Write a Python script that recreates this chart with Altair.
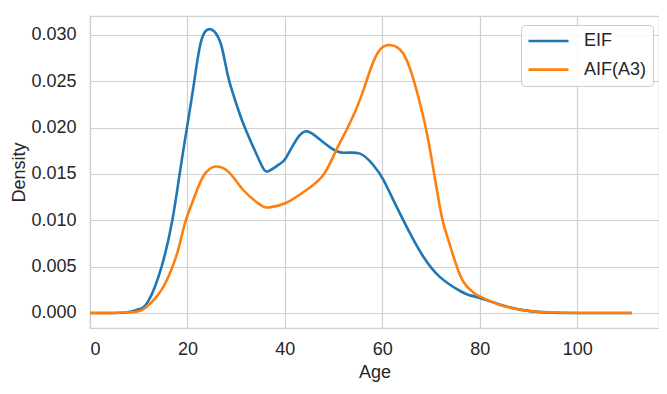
import altair as alt
import pandas as pd

# ---- data ----
eif_age = [0, 5, 8, 10, 12, 14.7, 16.9, 18.4, 19.9, 21.4, 22.9, 24.9, 26.7, 27.7, 28.7, 30.2, 31.8,
           34.9, 36.6, 39.0, 40.3, 42.5, 44.6, 47.0, 49.5, 52.0, 55.4, 58.1, 60.2, 62.9, 65.7, 68.4,
           71.8, 75.9, 78.0, 80.2, 85.5, 90.3, 95.0, 100.0, 111.2]
eif_density = [0, 0.0000, 0.0001, 0.0004, 0.0013, 0.0050, 0.0100, 0.0150, 0.0200, 0.0250, 0.0295,
               0.0306, 0.0293, 0.0271, 0.0248, 0.0223, 0.0200, 0.0163, 0.0153, 0.0161, 0.0168,
               0.0188, 0.0196, 0.0188, 0.0178, 0.0173, 0.0172, 0.0160, 0.0144, 0.0115, 0.0086,
               0.0061, 0.0039, 0.0024, 0.0019, 0.0016, 0.0007, 0.0002, 0.00003, 0, 0]

aif_age = [0, 5, 8, 10.9, 14.3, 16.4, 18.1, 19.5, 21.2, 23.2, 25.8, 28.7, 31.4, 34.9, 36.9, 40.3,
           44.5, 47.9, 50.3, 52.7, 55.4, 57.5, 59.5, 61.9, 64.3, 66.4, 68.4, 69.8, 71.8, 72.9,
           74.6, 76.6, 78.7, 80.0, 84.1, 88.9, 93.0, 100.0, 111.2]
aif_density = [0, 0, 0.0001, 0.0004, 0.0022, 0.0043, 0.0068, 0.0097, 0.0122, 0.0147, 0.0158,
               0.0151, 0.0133, 0.0117, 0.0114, 0.0119, 0.0133, 0.0149, 0.0173, 0.0198, 0.0230,
               0.0262, 0.0284, 0.0289, 0.0280, 0.0252, 0.0212, 0.0176, 0.0115, 0.0090,
               0.0061, 0.0034, 0.0022, 0.0018, 0.0009, 0.0003, 0.0001, 0, 0]

series_names = ["EIF", "AIF(A3)"]
series_colors = ["#1f77b4", "#ff7f0e"]
x_ticks = [0, 20, 40, 60, 80, 100]
y_ticks = [0.000, 0.005, 0.010, 0.015, 0.020, 0.025, 0.030]

rows = []
for i, (a, d) in enumerate(zip(eif_age, eif_density)):
    rows.append({"Age": a, "Density": d, "series": "EIF", "ord": i})
for i, (a, d) in enumerate(zip(aif_age, aif_density)):
    rows.append({"Age": a, "Density": d, "series": "AIF(A3)", "ord": i})
df = pd.DataFrame(rows)

FONT = "Liberation Sans"
TXT = "#262626"
GRID = "#d0d0d0"
FS = 18

chart = alt.Chart(df).mark_line(strokeWidth=2.6, interpolate="natural").encode(
    x=alt.X("Age:Q", title="Age",
            scale=alt.Scale(domain=[0, 116.8], nice=False, zero=False),
            axis=alt.Axis(values=x_ticks, format="d")),
    y=alt.Y("Density:Q", title="Density",
            scale=alt.Scale(domain=[-0.00162, 0.03205], nice=False, zero=False),
            axis=alt.Axis(values=y_ticks, format=".3f")),
    color=alt.Color("series:N", sort=series_names,
                    scale=alt.Scale(domain=series_names, range=series_colors),
                    legend=alt.Legend(title=None, orient="none", legendX=431, legendY=9,
                                      symbolType="stroke", symbolSize=1600, clipHeight=20,
                                      symbolStrokeWidth=2.6, labelFontSize=FS,
                                      labelFont=FONT, labelColor=TXT, labelOffset=14,
                                      rowPadding=8.6, padding=6,
                                      strokeColor="#cccccc", cornerRadius=4,
                                      fillColor="rgba(255,255,255,0.85)")),
    detail="series:N",
    order="ord:Q",
).properties(
    width=569, height=312,
    autosize=alt.AutoSizeParams(type="none"),
    padding={"left": 82, "top": 8, "right": 0, "bottom": 66},
).configure_view(
    stroke=GRID, strokeWidth=1.2
).configure_axis(
    grid=True, gridColor=GRID, gridWidth=1.2, ticks=False, domain=False,
    labelFont=FONT, labelFontSize=FS, labelColor=TXT,
    titleFont=FONT, titleFontSize=FS, titleColor=TXT, titleFontWeight="normal",
).configure_axisX(
    labelPadding=12, titlePadding=5
).configure_axisY(
    labelPadding=14, titlePadding=2
)

chart.save("out.html", embed_options={"renderer": "svg", "actions": False})
